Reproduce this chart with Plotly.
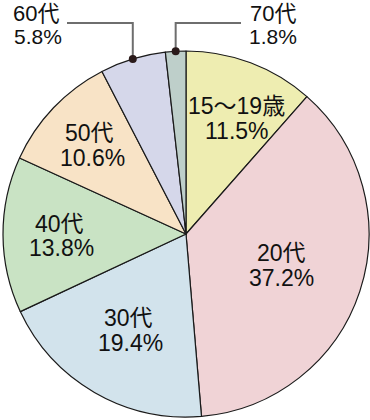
import math
import plotly.graph_objects as go

# ---- data ----
categories = ["15～19歳", "20代", "30代", "40代", "50代", "60代", "70代"]
shares = [11.5, 37.2, 19.4, 13.8, 10.6, 5.8, 1.8]
colors = ["#EEEDB1", "#F0D3D6", "#D2E3EC", "#C9E3C4", "#F8E3C6", "#D5D7EA", "#BECFCA"]

W, H = 370, 420
CX, CY, R = 186, 234, 183  # pixel geometry of the pie

def px(x):
    return x / W

def py(y):
    return 1 - y / H

fig = go.Figure(go.Pie(
    labels=categories,
    values=shares,
    sort=False,
    direction="clockwise",
    rotation=0,
    marker=dict(colors=colors, line=dict(color="#1a1a1a", width=1.2)),
    textinfo="none",
    hoverinfo="label+percent",
    domain=dict(x=[px(CX - R), px(CX + R)], y=[py(CY + R), py(CY - R)]),
    showlegend=False,
))

FONT = "Liberation Sans, Arial, Noto Sans CJK JP"
TXT = "#111111"
annotations = []
shapes = []

# inside labels: (name center px, pct center px)
inside_pos = {
    0: ((236, 106), (237, 131)),
    1: ((281, 253), (281, 278)),
    2: ((128, 318), (130, 343)),
    3: ((59, 224), (61, 248)),
    4: ((89, 133), (92, 158)),
}
for i, ((nx, ny), (qx, qy)) in inside_pos.items():
    annotations.append(dict(x=px(nx), y=py(ny), xref="paper", yref="paper",
                            text=categories[i], showarrow=False,
                            font=dict(family=FONT, size=23, color=TXT),
                            xanchor="center", yanchor="middle"))
    annotations.append(dict(x=px(qx), y=py(qy), xref="paper", yref="paper",
                            text=f"{shares[i]}%", showarrow=False,
                            font=dict(family=FONT, size=23, color=TXT),
                            xanchor="center", yanchor="middle"))

# outside labels with leader lines
total = sum(shares)
def mid_point(i):
    cum = sum(shares[:i]) + shares[i] / 2
    ang = 2 * math.pi * cum / total
    return CX + R * math.sin(ang), CY - R * math.cos(ang)

LINE_Y = 23
outside = {
    5: dict(end_x=67, name_x=12, pct=(12, 36), anchor="left"),
    6: dict(end_x=241, name_x=273, pct=(273, 36), anchor="center"),
}
for i, o in outside.items():
    dx, dy = mid_point(i)
    shapes.append(dict(type="path", xref="paper", yref="paper",
                       path=f"M {px(dx)},{py(dy)} L {px(dx)},{py(LINE_Y)} L {px(o['end_x'])},{py(LINE_Y)}",
                       line=dict(color="#6e6e6e", width=2)))
    rr = 4
    shapes.append(dict(type="circle", xref="paper", yref="paper",
                       x0=px(dx - rr), x1=px(dx + rr), y0=py(dy + rr), y1=py(dy - rr),
                       fillcolor="#2a1a1a", line=dict(width=0)))
    annotations.append(dict(x=px(o["name_x"]), y=1, xref="paper", yref="paper",
                            text=categories[i], showarrow=False,
                            font=dict(family=FONT, size=22, color=TXT),
                            xanchor=o["anchor"], yanchor="top", borderpad=0))
    annotations.append(dict(x=px(o["pct"][0]), y=py(o["pct"][1]), xref="paper", yref="paper",
                            text=f"{shares[i]}%", showarrow=False,
                            font=dict(family=FONT, size=21, color=TXT),
                            xanchor=o["anchor"], yanchor="middle"))

fig.update_layout(
    width=W, height=H,
    margin=dict(l=0, r=0, t=0, b=0),
    paper_bgcolor="white",
    plot_bgcolor="white",
    annotations=annotations,
    shapes=shapes,
)

fig.write_html("out.html", config={"displayModeBar": False},
               post_script="document.body.style.margin='0';document.body.style.overflow='hidden';")
